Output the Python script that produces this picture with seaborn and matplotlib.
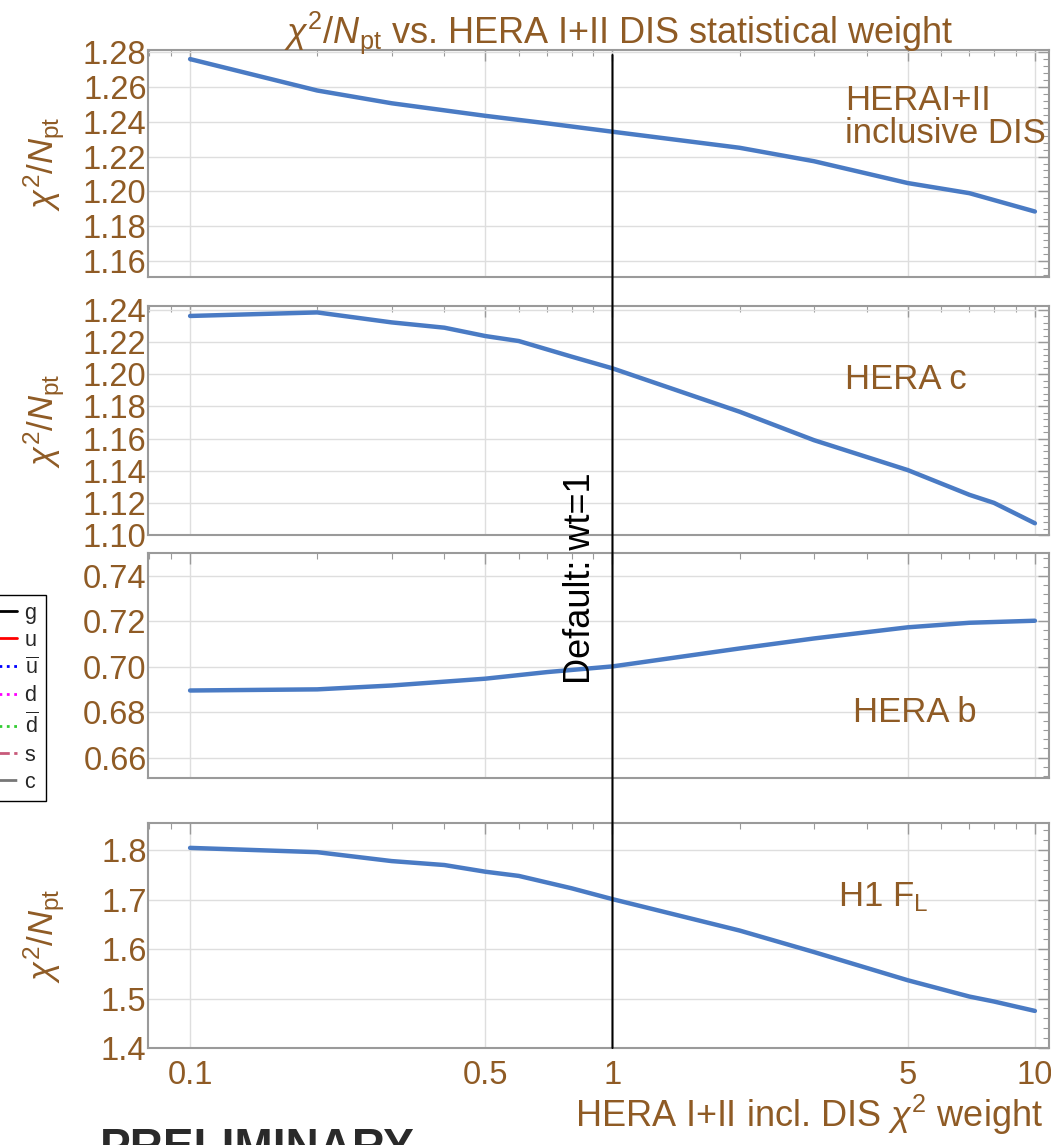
import numpy as np
import pandas as pd
import matplotlib
matplotlib.use("Agg")
import matplotlib.pyplot as plt
import seaborn as sns
from matplotlib.lines import Line2D
from matplotlib.patches import ConnectionPatch
from matplotlib.ticker import FixedLocator, FixedFormatter, LogLocator, AutoMinorLocator, NullFormatter

# --- data ---
weights = [0.1, 0.2, 0.3, 0.5, 0.7, 1, 2, 3, 5, 7, 10]
chi2_hera_incl = [1.2758, 1.2578, 1.2505, 1.2433, 1.2390, 1.2342, 1.2250, 1.2173, 1.2048, 1.1990, 1.1885]

weights_c = [0.1, 0.2, 0.3, 0.4, 0.5, 0.6, 0.8, 1, 2, 3, 5, 7, 8, 10]
chi2_hera_c = [1.2363, 1.2385, 1.2323, 1.2290, 1.2238, 1.2207, 1.2110, 1.2037, 1.1767, 1.1590, 1.1404, 1.1250, 1.1200, 1.1073]

weights_b = [0.1, 0.2, 0.3, 0.5, 0.7, 1, 2, 3, 5, 7, 10]
chi2_hera_b = [0.6895, 0.6900, 0.6917, 0.6947, 0.6976, 0.7001, 0.7080, 0.7124, 0.7173, 0.7193, 0.7202]

weights_fl = [0.1, 0.2, 0.3, 0.4, 0.5, 0.6, 0.8, 1, 2, 3, 5, 7, 8, 10]
chi2_h1_fl = [1.8047, 1.7960, 1.7780, 1.7700, 1.7565, 1.7480, 1.7230, 1.7010, 1.6375, 1.5940, 1.5370, 1.5040, 1.4940, 1.4750]

panel_names = ["HERAI+II\ninclusive DIS", "HERA c", "HERA b", r"H1 F$_{\rm L}$"]
y_limits = [(1.151, 1.281), (1.10, 1.2425), (0.651, 0.750), (1.40, 1.855)]
y_ticks = [[1.16, 1.18, 1.20, 1.22, 1.24, 1.26, 1.28],
           [1.10, 1.12, 1.14, 1.16, 1.18, 1.20, 1.22, 1.24],
           [0.66, 0.68, 0.70, 0.72, 0.74],
           [1.4, 1.5, 1.6, 1.7, 1.8]]
y_fmt = ["{:.2f}", "{:.2f}", "{:.2f}", "{:.1f}"]
x_ticks = [0.1, 0.5, 1, 5, 10]
x_tick_labels = ["0.1", "0.5", "1", "5", "10"]
legend_labels = ["g", "u", r"$\overline{\mathrm{u}}$", "d", r"$\overline{\mathrm{d}}$", "s", "c"]
legend_colors = ["black", "red", "blue", "magenta", "#33cc33", "#c85a7a", "#777777"]
legend_styles = ["-", "-", ":", ":", ":", "--", "-."]

# --- style ---
sns.set_style("white")
plt.rcParams["font.family"] = ["Liberation Sans", "DejaVu Sans"]
plt.rcParams["mathtext.fontset"] = "custom"
plt.rcParams["mathtext.rm"] = "Liberation Sans"
plt.rcParams["mathtext.it"] = "Liberation Sans:italic"
plt.rcParams["mathtext.bf"] = "Liberation Sans:bold"

brown = "#8f5b25"
blue = "#4a7bc4"
frame = "#9a9a9a"

W, H = 1051, 1145
fig = plt.figure(figsize=(W / 100, H / 100), dpi=100)

left_px, right_px = 148, 1049
panel_px = [(50, 277), (306, 535), (553, 778), (823, 1048)]
series = [(weights, chi2_hera_incl), (weights_c, chi2_hera_c),
          (weights_b, chi2_hera_b), (weights_fl, chi2_h1_fl)]
text_pos = [(0.774, 0.705), (0.774, 0.677), (0.783, 0.289), (0.766, 0.671)]

axes = []
for i, (top, bot) in enumerate(panel_px):
    ax = fig.add_axes([left_px / W, 1 - bot / H, (right_px - left_px) / W, (bot - top) / H])
    xs, ys = series[i]
    df = pd.DataFrame({"weight": xs, "chi2": ys})
    sns.lineplot(data=df, x="weight", y="chi2", ax=ax, color=blue, linewidth=3.2, legend=False)
    ax.set_xscale("log")
    ax.set_xlim(0.0795, 10.8)
    ax.set_ylim(*y_limits[i])
    ax.xaxis.set_major_locator(FixedLocator(x_ticks))
    ax.xaxis.set_minor_locator(LogLocator(base=10, subs=[2, 3, 4, 6, 7, 8, 9]))
    ax.xaxis.set_minor_formatter(NullFormatter())
    if i == 3:
        ax.xaxis.set_major_formatter(FixedFormatter(x_tick_labels))
    else:
        ax.xaxis.set_major_formatter(NullFormatter())
    ax.set_yticks(y_ticks[i])
    ax.set_yticklabels([y_fmt[i].format(v) for v in y_ticks[i]])
    ax.yaxis.set_minor_locator(AutoMinorLocator(5))
    ax.grid(True, which="major", color="#dedede", linewidth=1.0)
    ax.tick_params(which="both", direction="in", top=True, right=True, color=frame,
                   labelcolor=brown, labelsize=23.5, pad=1)
    ax.tick_params(which="major", length=8, width=1.0)
    ax.tick_params(which="minor", length=4, width=0.8)
    ax.tick_params(axis="x", pad=9)
    for s in ax.spines.values():
        s.set_color(frame)
        s.set_linewidth(1.5)
    ax.set_xlabel("")
    # the third panel's axis title is hidden behind the legend in the original
    ax.set_ylabel(r"$\chi^2/N_{\rm pt}$" if i != 2 else "", color=brown, fontsize=25)
    ax.yaxis.set_label_coords(-(left_px - 67) / (right_px - left_px), 0.5)
    tx, ty = text_pos[i]
    ax.text(tx, ty, panel_names[i], transform=ax.transAxes, color=brown, fontsize=25,
            ha="left", va="center", linespacing=1.0)
    axes.append(ax)

# default weight line across all panels
con = ConnectionPatch(xyA=(1, (277 - 55) / (277 - 50)), coordsA=axes[0].get_xaxis_transform(),
                      xyB=(1, 0), coordsB=axes[3].get_xaxis_transform(),
                      color="black", linewidth=1.5, zorder=10)
fig.add_artist(con)
fig.text(581 / W, 1 - 578 / H, "Default: wt=1", rotation=90, ha="center", va="center",
         fontsize=26, color="black")

# titles
fig.text(619 / W, 1 - 43 / H, r"$\chi^2/N_{\rm pt}$ vs. HERA I+II DIS statistical weight",
         ha="center", va="baseline", color=brown, fontsize=26)
fig.text(809 / W, 1 - 1127 / H, r"HERA I+II incl. DIS $\chi^2$ weight",
         ha="center", va="baseline", color=brown, fontsize=26)
fig.text(100 / W, 1 - 1127 / H, "PRELIMINARY", ha="left", va="top",
         fontsize=33, fontweight="bold", color="#2a2a2a")

# parton legend at the left edge
handles = [Line2D([0], [0], color=c, linestyle=ls, linewidth=2)
           for c, ls in zip(legend_colors, legend_styles)]
leg = fig.legend(handles, legend_labels, loc="upper right", bbox_to_anchor=(46 / W, 1 - 595 / H),
                 fontsize=15.5, handlelength=1.4, handletextpad=0.35, labelspacing=0.3,
                 borderpad=0.35, borderaxespad=0, frameon=True, fancybox=False, framealpha=1)
leg.get_frame().set_edgecolor("black")
leg.get_frame().set_linewidth(1.0)
leg.set_zorder(20)

fig.savefig("out.png", dpi=100)
